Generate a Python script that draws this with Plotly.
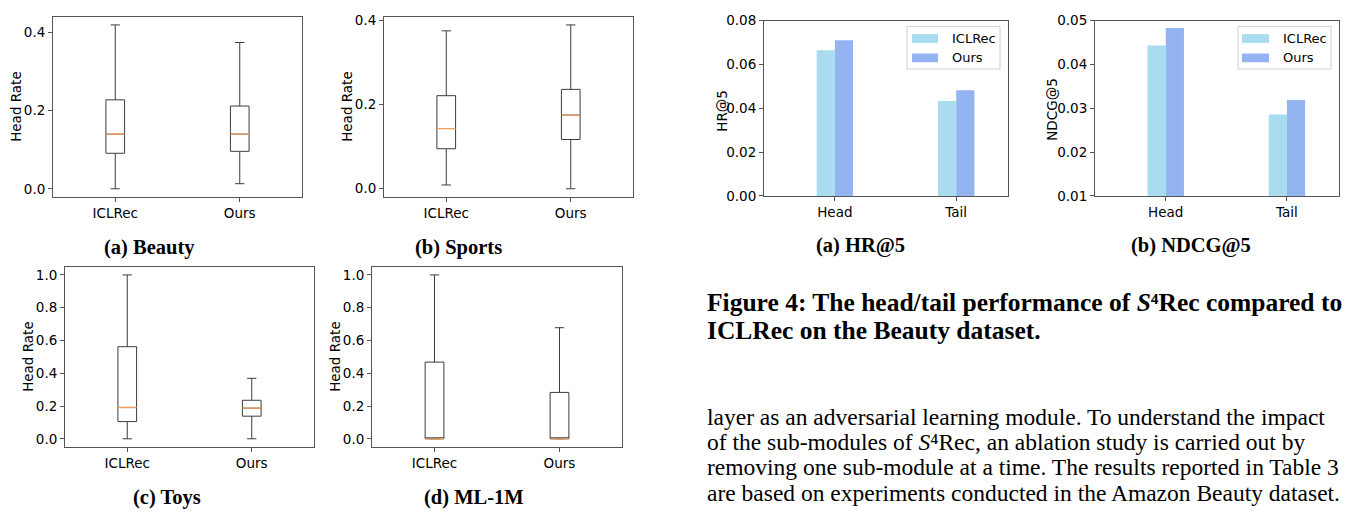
import plotly.graph_objects as go

# ---------------- data ----------------
box_categories = ["ICLRec", "Ours"]
datasets = ["Beauty", "Sports", "Toys", "ML-1M"]

beauty_lower = [0.0, 0.013]
beauty_q1 = [0.091, 0.096]
beauty_median = [0.140, 0.140]
beauty_q3 = [0.228, 0.212]
beauty_upper = [0.420, 0.375]

sports_lower = [0.009, 0.0]
sports_q1 = [0.095, 0.117]
sports_median = [0.143, 0.175]
sports_q3 = [0.221, 0.236]
sports_upper = [0.375, 0.389]

toys_lower = [0.0, 0.0]
toys_q1 = [0.105, 0.138]
toys_median = [0.191, 0.187]
toys_q3 = [0.562, 0.235]
toys_upper = [1.0, 0.369]

ml1m_lower = [0.0, 0.0]
ml1m_q1 = [0.0, 0.0]
ml1m_median = [0.0, 0.0]
ml1m_q3 = [0.468, 0.283]
ml1m_upper = [1.0, 0.678]

bar_groups = ["Head", "Tail"]
bar_series = ["ICLRec", "Ours"]
hr5_iclrec = [0.0665, 0.0433]
hr5_ours = [0.0710, 0.0482]
ndcg5_iclrec = [0.0443, 0.0286]
ndcg5_ours = [0.0483, 0.0319]

box_captions = ["(a) Beauty", "(b) Sports", "(c) Toys", "(d) ML-1M"]
bar_captions = ["(a) HR@5", "(b) NDCG@5"]
bar_ylabels = ["HR@5", "NDCG@5"]
box_ylabel = "Head Rate"
figure_caption = ["Figure 4: The head/tail performance of <i>S</i>\u2074Rec compared to",
                  "ICLRec on the Beauty dataset."]
paragraph = ["layer as an adversarial learning module. To understand the impact",
             "of the sub-modules of <i>S</i>\u2074Rec, an ablation study is carried out by",
             "removing one sub-module at a time. The results reported in Table 3",
             "are based on experiments conducted in the Amazon Beauty dataset."]

# ---------------- layout helpers ----------------
W, H = 1350, 517


def fx(px):
    return px / W


def fy(py):
    return 1 - py / H


BOX_LINE = "#3c3c3c"
MEDIAN = "#f5a05a"
SPINE = "#555555"
C_ICL = "#a9dcef"
C_OURS = "#93b4f0"
TICKFONT = dict(family="DejaVu Sans", size=13.5, color="black")

fig = go.Figure()

box_stats = [
    (beauty_lower, beauty_q1, beauty_median, beauty_q3, beauty_upper),
    (sports_lower, sports_q1, sports_median, sports_q3, sports_upper),
    (toys_lower, toys_q1, toys_median, toys_q3, toys_upper),
    (ml1m_lower, ml1m_q1, ml1m_median, ml1m_q3, ml1m_upper),
]

for i, (lo, q1, med, q3, up) in enumerate(box_stats):
    ax = "" if i == 0 else str(i + 1)
    fig.add_trace(go.Box(
        x=box_categories, lowerfence=lo, q1=q1, median=med, q3=q3, upperfence=up,
        width=0.15, whiskerwidth=0.5, fillcolor="white",
        line=dict(color=BOX_LINE, width=1), boxpoints=False,
        xaxis="x" + ax, yaxis="y" + ax, showlegend=False, hoverinfo="skip"))
    # median line drawn as a degenerate box in the matplotlib median colour
    fig.add_trace(go.Box(
        x=box_categories, lowerfence=med, q1=med, median=med, q3=med, upperfence=med,
        width=0.15, whiskerwidth=0.0, fillcolor="rgba(0,0,0,0)",
        line=dict(color=MEDIAN, width=1.3), boxpoints=False,
        xaxis="x" + ax, yaxis="y" + ax, showlegend=False, hoverinfo="skip"))

bar_data = [(hr5_iclrec, hr5_ours), (ndcg5_iclrec, ndcg5_ours)]
for j, (icl, ours) in enumerate(bar_data):
    ax = str(5 + j)
    fig.add_trace(go.Bar(x=bar_groups, y=icl, name=bar_series[0], width=0.15, offset=-0.15,
                         marker=dict(color=C_ICL, line=dict(width=0)),
                         xaxis="x" + ax, yaxis="y" + ax, showlegend=False))
    fig.add_trace(go.Bar(x=bar_groups, y=ours, name=bar_series[1], width=0.15, offset=0.0,
                         marker=dict(color=C_OURS, line=dict(width=0)),
                         xaxis="x" + ax, yaxis="y" + ax, showlegend=False))

# axes pixel boxes: (left, right, top, bottom)
axes_px = [
    (53, 302, 9, 195),
    (384, 633, 9, 195),
    (65, 314, 267, 453),
    (372, 622, 267, 453),
    (764, 1008, 13, 194),
    (1095, 1339, 13, 194),
]
y_ranges = [[-0.021, 0.441], [-0.0195, 0.4085], [-0.05, 1.05], [-0.05, 1.05], [0, 0.08], [0.01, 0.05]]
y_dticks = [0.2, 0.2, 0.2, 0.2, 0.02, 0.01]
y_formats = [".1f", ".1f", ".1f", ".1f", ".2f", ".2f"]
x_ranges = [[-0.5, 1.5]] * 4 + [[-0.584, 1.427], [-0.584, 1.43]]

common = dict(showline=True, mirror=True, linecolor=SPINE, linewidth=1, ticks="outside",
              ticklen=4, tickwidth=1, tickcolor=SPINE, showgrid=False, zeroline=False,
              tickfont=TICKFONT, fixedrange=True)

layout_axes = {}
for i, (l, r, t, b) in enumerate(axes_px):
    ax = "" if i == 0 else str(i + 1)
    layout_axes["xaxis" + ax] = dict(domain=[fx(l), fx(r)], anchor="y" + ax, range=x_ranges[i],
                                     type="category", **common)
    layout_axes["yaxis" + ax] = dict(domain=[fy(b), fy(t)], anchor="x" + ax, range=y_ranges[i],
                                     dtick=y_dticks[i], tick0=0, tickformat=y_formats[i], **common)

annotations = []
# y-axis titles
ytitle_pos = [(16, 102), (347, 102), (28, 360), (335, 360), (722, 106), (1052, 105)]
ytitles = [box_ylabel] * 4 + bar_ylabels
for (px, py), txt in zip(ytitle_pos, ytitles):
    annotations.append(dict(text=txt, x=fx(px), y=fy(py), xref="paper", yref="paper",
                            showarrow=False, textangle=-90, xanchor="center", yanchor="middle",
                            font=dict(family="DejaVu Sans", size=13.5, color="black")))

# subfigure captions
cap_pos = [(149, 247), (458, 247), (167, 505), (474, 505), (860, 245), (1191, 245)]
for (px, py), txt in zip(cap_pos, box_captions + bar_captions):
    annotations.append(dict(text="<b>" + txt + "</b>", x=fx(px), y=fy(py), xref="paper", yref="paper",
                            showarrow=False, xanchor="center", yanchor="middle",
                            font=dict(family="Liberation Serif", size=20.5, color="black")))

# figure caption
for k, line in enumerate(figure_caption):
    annotations.append(dict(text="<b>" + line + "</b>", x=fx(705), y=fy(304 + 29 * k),
                            xref="paper", yref="paper", showarrow=False,
                            xanchor="left", yanchor="middle",
                            font=dict(family="Liberation Serif", size=25.5, color="black")))

# body paragraph
for k, line in enumerate(paragraph):
    annotations.append(dict(text=line, x=fx(705), y=fy(422 + 26 * k),
                            xref="paper", yref="paper", showarrow=False,
                            xanchor="left", yanchor="middle",
                            font=dict(family="Liberation Serif", size=23.5, color="black")))

# legends for the bar charts (drawn as boxes + labels)
shapes = []
legend_px = [(907, 1000, 912, 938, 950), (1238, 1331, 1242, 1269, 1281)]
for (bl, br, pl, pr, tx) in legend_px:
    shapes.append(dict(type="rect", xref="paper", yref="paper",
                       x0=fx(bl), x1=fx(br), y0=fy(63), y1=fy(19),
                       line=dict(color="#d0d0d0", width=1), fillcolor="rgba(255,255,255,0.8)"))
    for name, col, yc in zip(bar_series, [C_ICL, C_OURS], [31.5, 51.5]):
        shapes.append(dict(type="rect", xref="paper", yref="paper",
                           x0=fx(pl), x1=fx(pr), y0=fy(yc + 4.5), y1=fy(yc - 4.5),
                           line=dict(width=0), fillcolor=col))
        annotations.append(dict(text=name, x=fx(tx), y=fy(yc), xref="paper", yref="paper",
                                showarrow=False, xanchor="left", yanchor="middle",
                                font=dict(family="DejaVu Sans", size=13, color="black")))

fig.update_layout(
    width=W, height=H, margin=dict(l=0, r=0, t=0, b=0),
    paper_bgcolor="white", plot_bgcolor="white",
    boxmode="overlay", barmode="overlay", showlegend=False,
    annotations=annotations, shapes=shapes, **layout_axes)

fig.write_html("out.html", config={"displayModeBar": False},
               post_script="document.body.style.margin='0px';document.body.style.overflow='hidden';")
